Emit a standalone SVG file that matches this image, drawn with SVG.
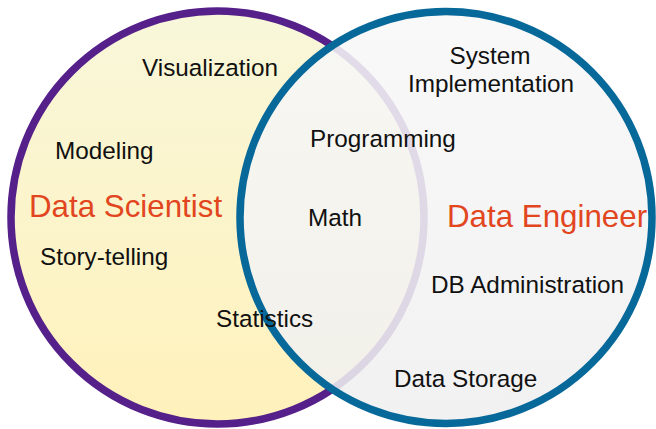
<svg xmlns="http://www.w3.org/2000/svg" width="656" height="429" viewBox="0 0 656 429">
  <defs>
    <linearGradient id="gYellow" x1="0" y1="0" x2="0" y2="1">
      <stop offset="0" stop-color="#f8f7da"/>
      <stop offset="1" stop-color="#fff1bb"/>
    </linearGradient>
    <linearGradient id="gGray" x1="0" y1="0" x2="0" y2="1">
      <stop offset="0" stop-color="#f8f8f8"/>
      <stop offset="1" stop-color="#efefef"/>
    </linearGradient>
  </defs>
  <style>
    .item { font-family: "Liberation Sans", Arial, sans-serif; font-size: 24.3px; fill: #111111; }
    .role { font-family: "Liberation Sans", Arial, sans-serif; font-size: 31.3px; fill: #e2461e; }
  </style>
  <g id="data-scientist">
    <circle cx="217.5" cy="217.5" r="206.5" fill="url(#gYellow)" stroke="#55208a" stroke-width="7.5"/>
  </g>
  <g id="data-engineer">
    <circle cx="446" cy="217.5" r="206" fill="url(#gGray)" fill-opacity="0.87" stroke="#07689a" stroke-width="7.5"/>
  </g>
  <g id="connectors"></g>
  <g id="labels">
    <text class="role" x="29" y="217">Data Scientist</text>
    <text class="role" x="447" y="227">Data Engineer</text>
    <text class="item" x="142" y="76">Visualization</text>
    <text class="item" x="55" y="159">Modeling</text>
    <text class="item" x="40" y="265">Story-telling</text>
    <text class="item" x="216" y="327">Statistics</text>
    <text class="item" x="490" y="64" text-anchor="middle">System</text>
    <text class="item" x="491" y="92" text-anchor="middle">Implementation</text>
    <text class="item" x="310" y="147">Programming</text>
    <text class="item" x="308" y="226">Math</text>
    <text class="item" x="431" y="293">DB Administration</text>
    <text class="item" x="394" y="387">Data Storage</text>
  </g>
</svg>
